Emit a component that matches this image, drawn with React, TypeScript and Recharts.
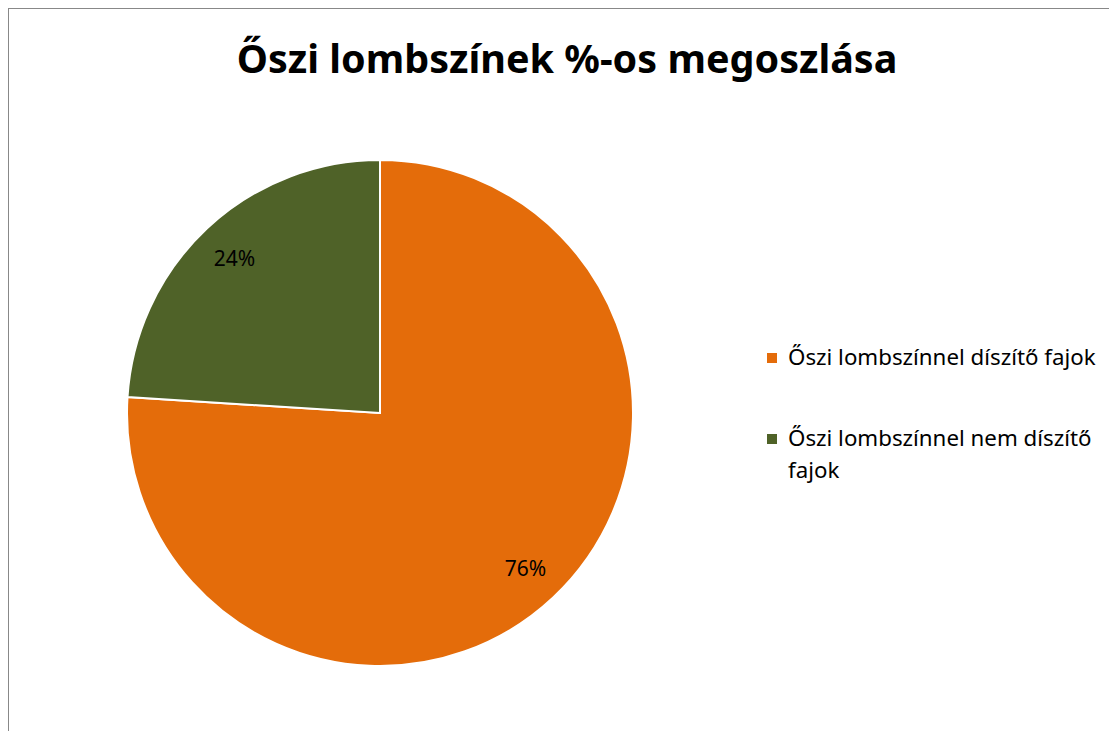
import { PieChart, Pie, Cell, Legend } from "recharts";

const categories = ["Őszi lombszínnel díszítő fajok", "Őszi lombszínnel nem díszítő fajok"];
const shares = [76, 24];
const colors = ["#E46C0A", "#4F6228"];
const chartTitle = "Őszi lombszínek %-os megoszlása";

const data = categories.map((name, i) => ({ name, value: shares[i] }));

const FONT = "'Noto Sans', 'Open Sans', sans-serif";
const RAD = Math.PI / 180;

function renderLabel(p: any) {
  // label sits at about 84% of the radius, like Excel's "best fit"
  const r = p.outerRadius * 0.84;
  const x = p.cx + r * Math.cos(-p.midAngle * RAD);
  const y = p.cy + r * Math.sin(-p.midAngle * RAD);
  return (
    <text x={x} y={y} textAnchor="middle" dominantBaseline="central" fill="#000" fontSize={21} fontFamily={FONT}>
      {`${Math.round(p.percent * 100)}%`}
    </text>
  );
}

function LegendBox() {
  return (
    <div style={{ fontFamily: FONT, fontSize: 22.3, color: "#000" }}>
      {data.map((d, i) => (
        <div key={d.name} style={{ display: "flex", alignItems: "flex-start", marginBottom: 49, lineHeight: "32px" }}>
          <span style={{ width: 10, height: 10, background: colors[i], marginTop: 12, marginRight: 11, flex: "none" }} />
          <span style={{ width: 322 }}>{d.name}</span>
        </div>
      ))}
    </div>
  );
}

export default function App() {
  return (
    <>
      <style>{`html,body{overflow:hidden}`}</style>
      <div style={{ width: 1108, height: 722, borderTop: "1px solid #888", borderLeft: "1px solid #888", background: "#fff" }}>
        <PieChart width={1108} height={722}>
          <text x={558} y={64} textAnchor="middle" fontFamily={FONT} fontWeight={700} fontSize={39.5} fill="#000">
            {chartTitle}
          </text>
          <Pie
            data={data}
            dataKey="value"
            nameKey="name"
            cx={366}
            cy={399}
            outerRadius={253}
            startAngle={90}
            endAngle={-270}
            stroke="#fff"
            strokeWidth={2}
            label={renderLabel}
            labelLine={false}
            isAnimationActive={false}
          >
            {data.map((d, i) => (
              <Cell key={d.name} fill={colors[i]} />
            ))}
          </Pie>
          <Legend
            content={<LegendBox />}
            wrapperStyle={{ left: 758, top: 332, width: 355 }}
          />
        </PieChart>
      </div>
    </>
  );
}
